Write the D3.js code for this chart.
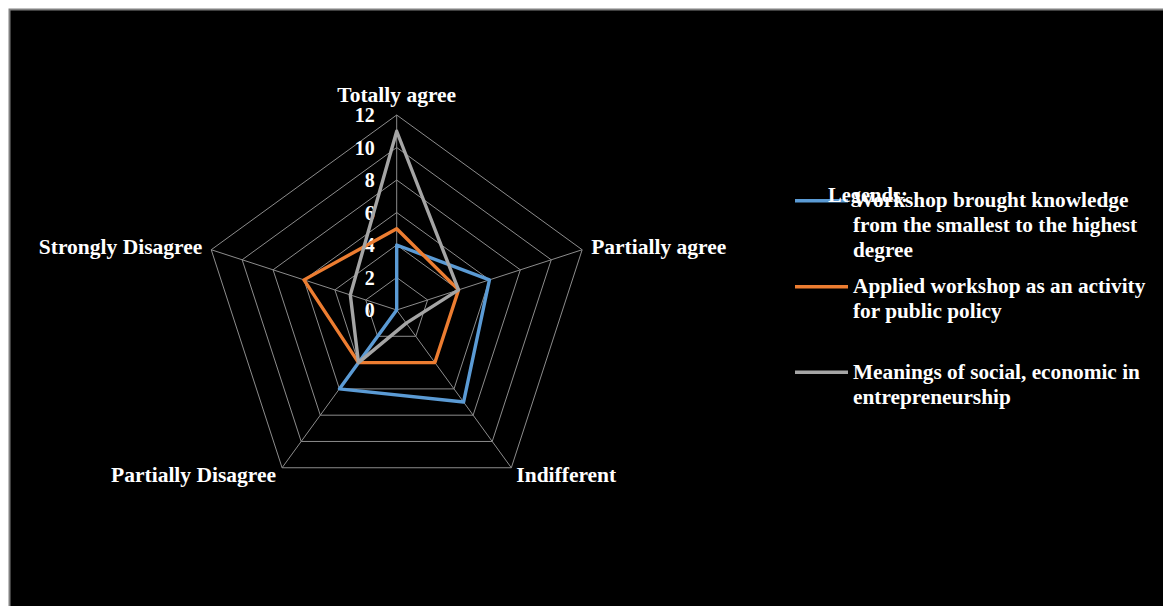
<!DOCTYPE html>
<html>
<head>
<meta charset="utf-8">
<script src="https://cdn.jsdelivr.net/npm/d3@7"></script>
<style>
    body { margin: 0; background: #fff; }
    svg text { font-family: "Liberation Serif", "Times New Roman", serif; font-weight: bold; fill: #fff; }
</style>
</head>
<body>
<div class="visualizer"></div>
<script>
// Data definition
const categories = ["Totally agree", "Partially agree", "Indifferent", "Partially Disagree", "Strongly Disagree"];
const seriesNames = [
    ["Workshop brought knowledge", "from the smallest to the highest", "degree"],
    ["Applied workshop as an activity", "for public policy"],
    ["Meanings of social, economic in", "entrepreneurship"]
];
const knowledge = [4, 6, 7, 6, 0];
const applied = [5, 4, 4, 4, 6];
const meanings = [11, 4, 1, 4, 3];
const ticks = [0, 2, 4, 6, 8, 10, 12];

const series = [knowledge, applied, meanings];
const colors = ["#5b9bd5", "#ed7d31", "#a5a5a5"];

// SVG properties
const width = 1163,
    height = 606,
    cx = 396.7,
    cy = 310,
    radius = 195;

const svg = d3.select(".visualizer")
    .append("svg")
    .attr("width", width)
    .attr("height", height);

// background frame
svg.append("rect")
    .attr("x", 9).attr("y", 10)
    .attr("width", width - 9).attr("height", height - 10)
    .attr("fill", "#000");
svg.append("path")
    .attr("d", `M9.5,${height} V9.5 H${width}`)
    .attr("fill", "none")
    .attr("stroke", "#808080")
    .attr("stroke-width", 2);

const rScale = d3.scaleLinear().domain([0, 12]).range([0, radius]);
const angle = d3.scaleLinear().domain([0, categories.length]).range([0, 2 * Math.PI]);

const g = svg.append("g").attr("transform", `translate(${ cx }, ${ cy })`);

// grid rings
const ring = d3.lineRadial()
    .angle((d, i) => angle(i))
    .radius(d => rScale(d))
    .curve(d3.curveLinearClosed);

ticks.slice(1).forEach(t => {
    g.append("path")
        .attr("d", ring(categories.map(() => t)))
        .attr("fill", "none")
        .attr("stroke", "#8c8c8c")
        .attr("stroke-width", 1);
});

// spokes
categories.forEach((c, i) => {
    const a = angle(i) - Math.PI / 2;
    g.append("line")
        .attr("x1", 0).attr("y1", 0)
        .attr("x2", rScale(12) * Math.cos(a))
        .attr("y2", rScale(12) * Math.sin(a))
        .attr("stroke", "#8c8c8c")
        .attr("stroke-width", 1);
});

// tick labels
g.selectAll(".tick")
    .data(ticks)
    .enter()
    .append("text")
    .attr("x", -22)
    .attr("y", d => -rScale(d))
    .attr("dy", "0.35em")
    .attr("text-anchor", "end")
    .attr("font-size", 20)
    .text(d => d);

// category labels
const labelPos = [
    { dx: 0, dy: -21, anchor: "middle" },
    { dx: 9, dy: -3, anchor: "start" },
    { dx: 5, dy: 7, anchor: "start" },
    { dx: -6, dy: 7, anchor: "end" },
    { dx: -9, dy: -3, anchor: "end" }
];
categories.forEach((c, i) => {
    const a = angle(i) - Math.PI / 2;
    g.append("text")
        .attr("x", rScale(12) * Math.cos(a) + labelPos[i].dx)
        .attr("y", rScale(12) * Math.sin(a) + labelPos[i].dy)
        .attr("dy", "0.35em")
        .attr("text-anchor", labelPos[i].anchor)
        .attr("font-size", 21.5)
        .text(c);
});

// series lines
series.forEach((s, k) => {
    g.append("path")
        .attr("d", ring(s))
        .attr("fill", "none")
        .attr("stroke", colors[k])
        .attr("stroke-width", 3.4)
        .attr("stroke-linejoin", "round");
});

// legend
const legendY = [200.7, 286.7, 372.3];
const legend = svg.append("g");
series.forEach((s, k) => {
    legend.append("line")
        .attr("x1", 795).attr("x2", 848)
        .attr("y1", legendY[k]).attr("y2", legendY[k])
        .attr("stroke", colors[k])
        .attr("stroke-width", 3.4);
    seriesNames[k].forEach((line, j) => {
        legend.append("text")
            .attr("x", 853)
            .attr("y", legendY[k] + 6.5 + j * 25)
            .attr("font-size", 21.3)
            .text(line);
    });
});
legend.append("text")
    .attr("x", 828)
    .attr("y", 202)
    .attr("font-size", 20.5)
    .text("Legends:");
</script>
</body>
</html>
